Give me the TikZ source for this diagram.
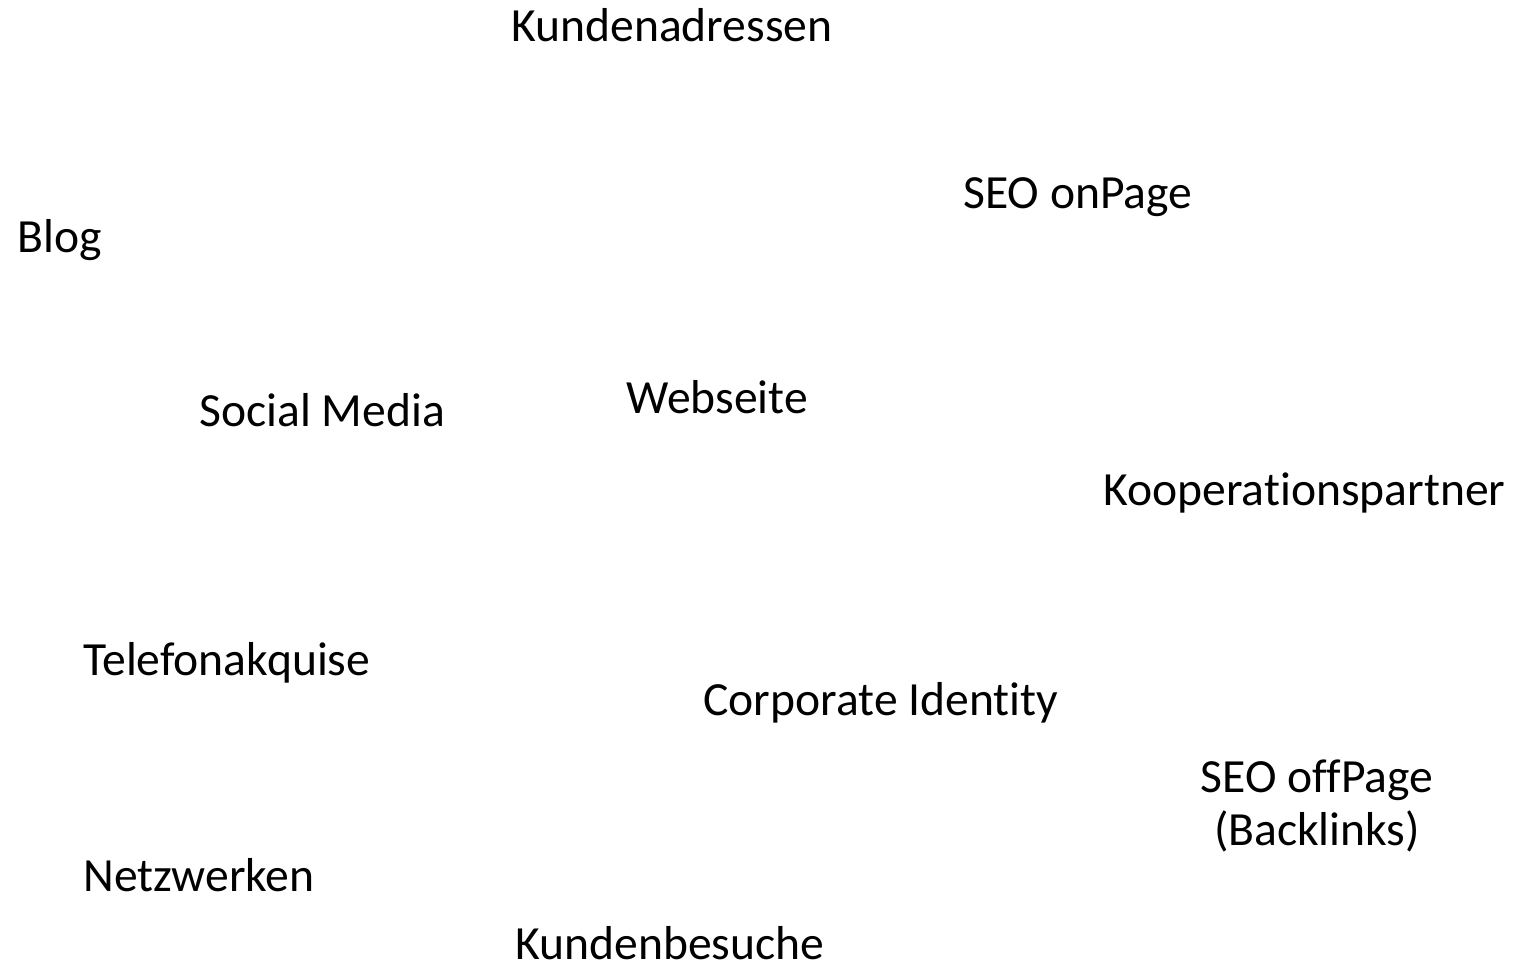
\documentclass[tikz,border=0pt]{standalone}
\usepackage{fontspec}
\setmainfont[Ligatures={NoCommon}]{Carlito}
\usepackage{tikz}
\usetikzlibrary{positioning}

\begin{document}
\begin{tikzpicture}[x=0.5pt, y=-0.5pt,
  lbl/.style={anchor=base west, inner sep=0pt, font=\fontsize{23.8}{26.5}\selectfont}]
  \useasboundingbox (0,0) rectangle (1519,970);
  \node[lbl] (adressen)   at (511,41)  {Kundenadressen};
  \node[lbl] (onpage)     at (963,208) {SEO onPage};
  \node[lbl] (blog)       at (17,252)  {Blog};
  \node[lbl] (social)     at (199,426) {Social Media};
  \node[lbl] (webseite)   at (626,413) {Webseite};
  \node[lbl] (koop)       at (1103,505) {Kooperationspartner};
  \node[lbl] (telefon)    at (83,675)  {Telefonakquise};
  \node[lbl] (ci)         at (703,715) {Corporate Identity};
  \node[lbl, anchor=base, align=center] (offpage) at (1317,845) {SEO offPage\\(Backlinks)};
  \node[lbl] (netzwerken) at (83,891)  {Netzwerken};
  \node[lbl] (besuche)    at (515,959) {Kundenbesuche};
\end{tikzpicture}
\end{document}
